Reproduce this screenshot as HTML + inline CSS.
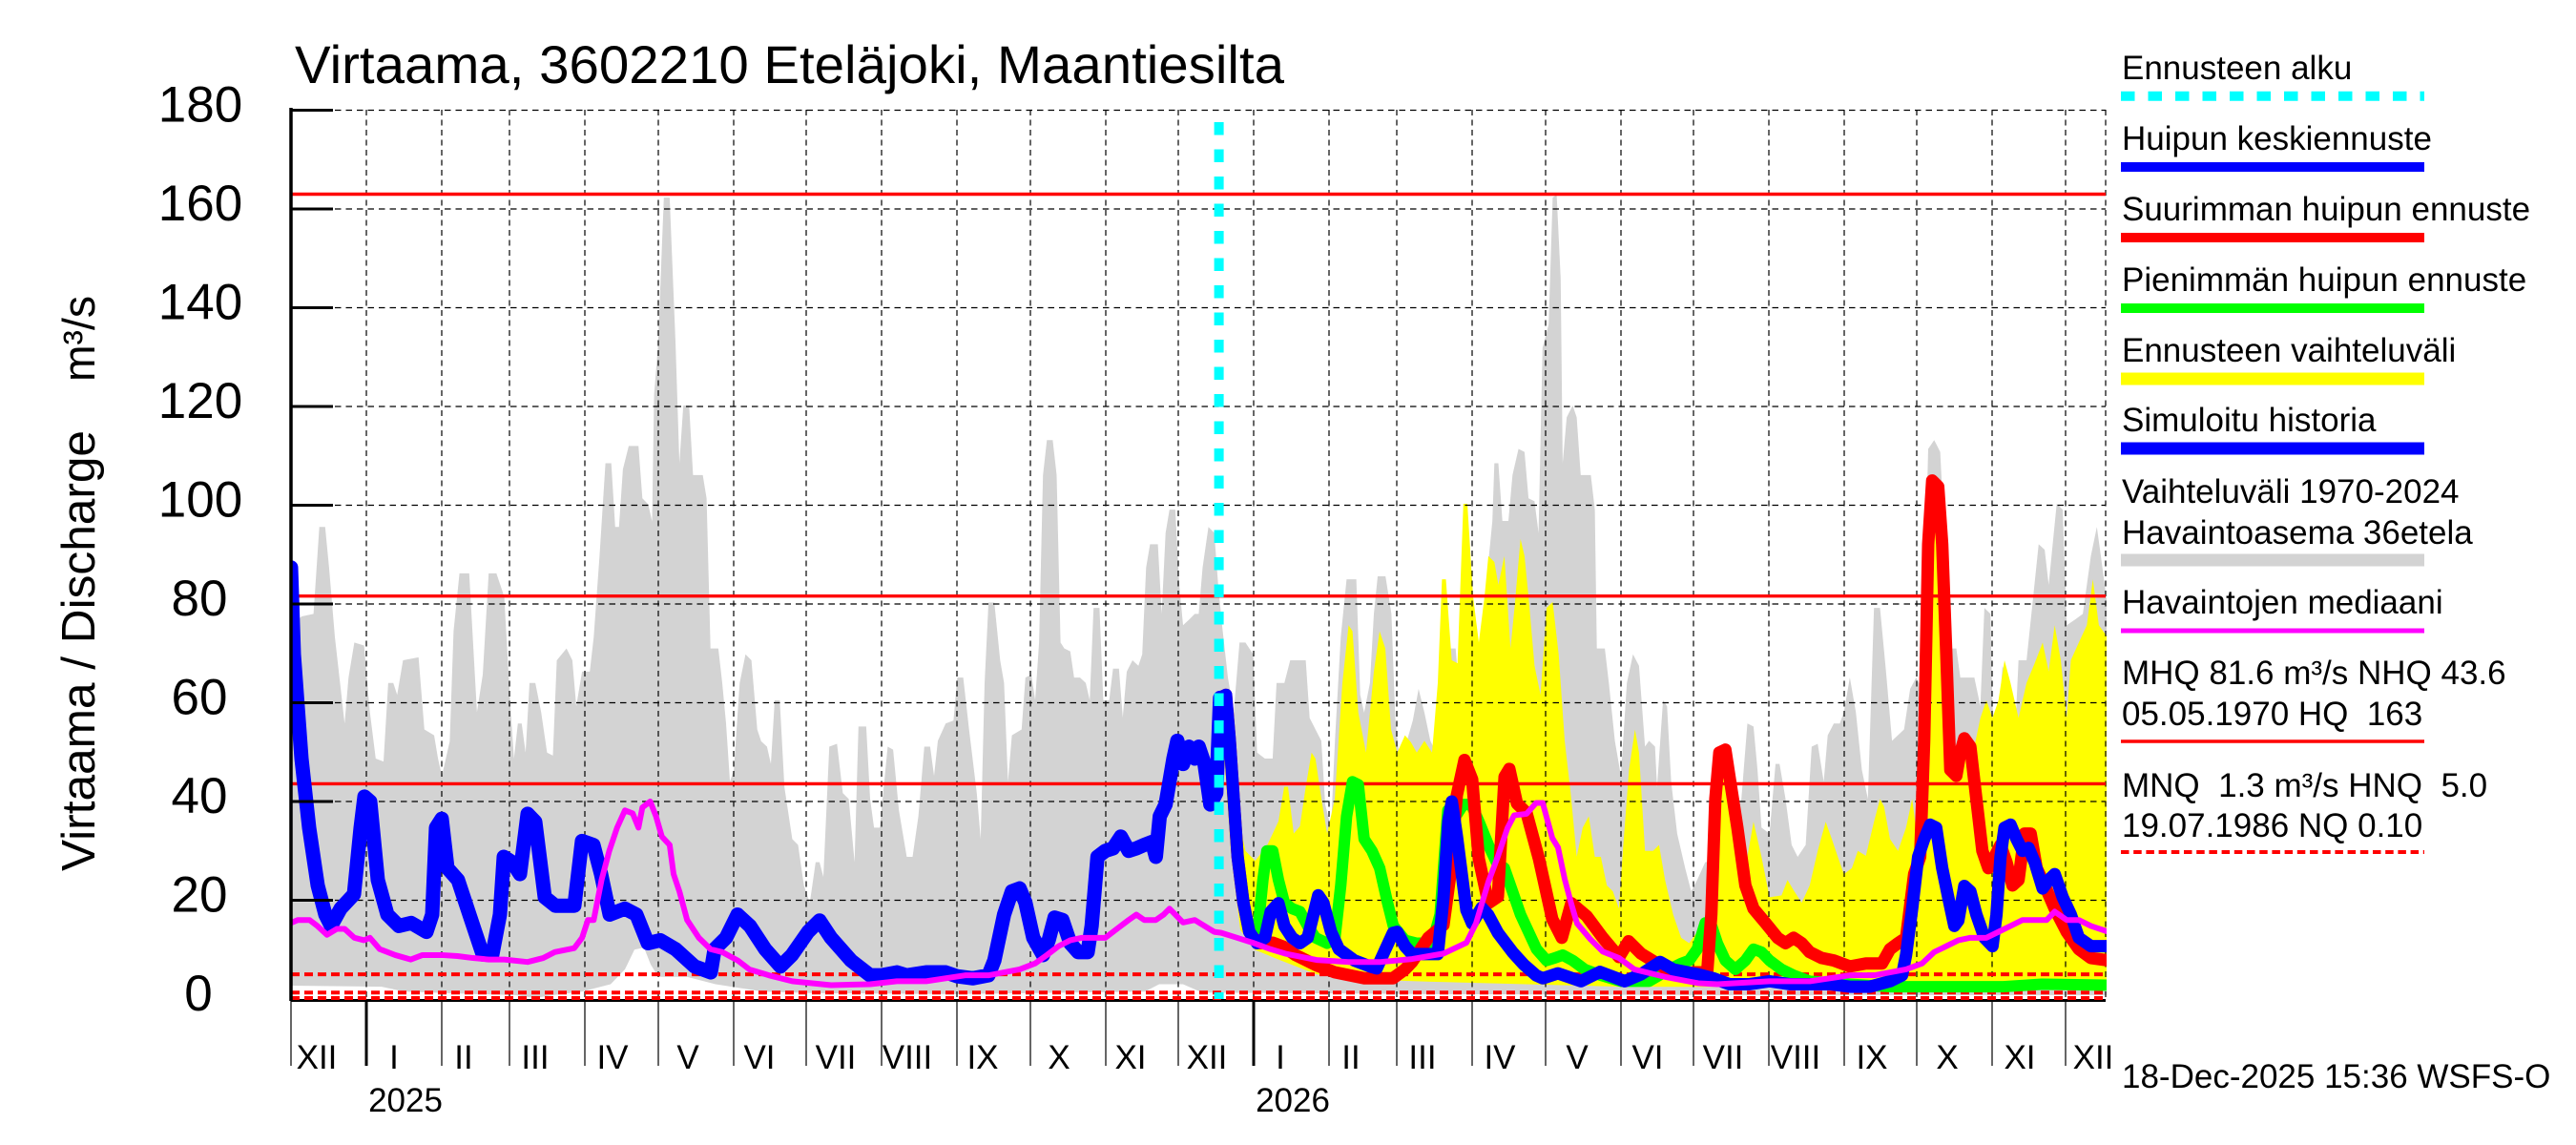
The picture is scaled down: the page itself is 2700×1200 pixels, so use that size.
<!DOCTYPE html>
<html><head><meta charset="utf-8"><style>
html,body{margin:0;padding:0;background:#fff;}
svg{display:block;}
text{font-family:"Liberation Sans",Arial,Helvetica,sans-serif;fill:#000;white-space:pre;}
</style></head><body>
<svg width="2700" height="1200" viewBox="0 0 2700 1200" xmlns="http://www.w3.org/2000/svg">
<defs><clipPath id="pc"><rect x="305" y="112" width="1903" height="936"/></clipPath></defs>
<rect width="2700" height="1200" fill="#fff"/>
<g clip-path="url(#pc)">
<g transform="matrix(1,0,0,-5.175,0,1047)">
<polygon fill="#d3d3d3" points="305,75.7 316.3,77.5 328.6,78 334.7,95.6 340.8,95.6 344.9,87.4 351,73.3 361.2,55.8 365.3,65.1 371.4,72.2 381.6,71.6 387.7,58.1 393.8,48.7 402,48.1 406.9,64 412.2,64 416.3,61.6 422.4,68.6 438.7,69.2 444.8,54.6 455,53.4 459.1,48.7 463.2,45.2 471.4,52.2 475.4,74.5 481.6,86.2 491.8,86.2 499.9,58.1 506,65.7 512.2,86.2 520.3,86.2 528.5,81.5 534.6,60.5 538.7,48.7 542.8,55.8 546.8,55.8 550.9,49.9 555,64 561.1,64 567.2,58.1 573.4,49.9 579.5,49.3 583.6,68.6 593.8,71 599.9,68.6 604,59.3 610.1,66.3 618.2,66.3 622.3,73.3 628.4,89.7 634.6,108.5 640.7,108.5 644.8,95.6 648.8,95.6 652.9,107.3 659,112 669.2,112 673.3,101.4 679.4,100.2 683.5,96.7 685.6,122.5 689.6,131.9 695.8,162.3 701.9,162.3 708,133.1 712.1,108.5 716.2,120.2 722.3,120.2 726.4,106.1 736.6,106.1 740.6,101.4 744.7,71 752.9,71 757,64 761,55.8 765.1,44 769.2,46.4 775.3,64 781.4,69.8 787.6,68.6 793.7,54.6 797.8,52.2 803.9,51.1 808,47.6 812,60.5 817.3,60.5 822.2,42.9 830.4,32.4 836.5,31.2 842.6,23 848.8,19.5 854.9,27.7 859,27.7 863,24.7 869.2,51.1 877.3,51.7 883.4,41.7 889.6,40.5 895.7,27.7 899.8,55.2 907.9,55.2 912,40.5 916.1,34.7 922.2,34.7 930.4,51.1 936.1,50.5 942.2,38.2 950.4,28.8 956.5,28.8 962.6,37 968.8,51.1 974.9,51.1 979,45.2 983,52.3 991.2,55.8 999.4,56.4 1003.4,65.1 1009.6,65.1 1015.7,54.6 1023.8,41.7 1027.9,32.4 1032,64 1036.1,80.3 1042.2,80.3 1048.3,68.6 1052.4,64 1056.5,44 1060.6,53.4 1070.8,54.6 1074.8,65.1 1081,65.7 1085,60.5 1089.1,72.2 1093.2,106.1 1097.3,113.2 1103.4,113.2 1107.5,106.1 1111.6,72.2 1115.6,71 1121.8,70.4 1125.8,65.1 1132,65.1 1138,64 1142.2,60.5 1146.2,79.2 1152.4,79.2 1156.4,60.5 1162.6,60.5 1166.6,66.9 1172.8,66.9 1176.8,57 1181,66.3 1187,68.6 1193.2,67.5 1197.2,69.8 1201.3,87.4 1205.4,92.1 1213.6,92.1 1217.6,78 1221.7,94.4 1225.8,99.1 1231.9,99.1 1236,83.9 1240,75.7 1246.2,76.8 1252.3,78 1256.4,78 1260.5,87.4 1266.6,95.6 1272.7,94.4 1276.8,83.9 1280.9,75.7 1287,65.1 1293.1,58.1 1299.2,72.2 1305.4,72.2 1313.5,69.8 1317.6,49.9 1325.8,48.7 1333.9,48.7 1338,64 1346.2,64 1352.3,68.6 1368.6,68.6 1372.7,56.9 1378.8,54.6 1384.9,52.3 1389,39.4 1395.1,34.7 1399.2,52.3 1405.3,73.3 1411.4,85 1421.6,85 1425.7,61.6 1429.8,58 1435.9,64 1440,78 1444,85.6 1452.2,85.6 1458.4,78 1462.4,57 1468.6,45.2 1474.7,52.3 1480.8,56.4 1486.9,62.8 1493,58 1499.2,52.3 1505.3,49.9 1511.4,64 1517.5,71 1525.7,71 1531.8,56.9 1537.9,65.1 1546.1,57 1552.2,68.6 1558.3,85 1564.2,96.8 1566.3,108.5 1570.5,108.5 1574.7,96.8 1581,96.8 1585.3,106.1 1591.6,111.4 1597.9,110.8 1602.1,101.4 1608.4,100.8 1612.6,94.4 1616.8,131.9 1623.2,136.6 1627.4,162.3 1631.6,162.9 1635.8,145.9 1637.9,108.5 1642.1,117.8 1648.4,120.2 1652.6,117.8 1656.8,106.1 1667.4,106.1 1671.6,99.1 1673.7,71 1682.1,71 1686.3,64 1692.6,52.3 1698.9,45.2 1705.2,64 1711.6,69.8 1717.9,67.5 1724.2,51.1 1728.4,52.3 1734.7,51.1 1736.8,42.9 1743.1,60.5 1747.3,59.3 1751.6,44 1757.9,33.5 1766.3,26.5 1772.6,21.8 1778.9,24.1 1787.3,27.7 1795.8,28 1800,22 1806,30 1816.8,34.7 1825.2,40.5 1831.5,55.8 1837.9,55.2 1842.1,46.4 1846.3,34.7 1854.7,33.5 1861,47.6 1865.2,47.6 1871.5,40.5 1877.9,31.2 1884.2,28.8 1892.6,31.2 1898.9,51.1 1905.2,51.7 1911.5,44 1915.7,53.4 1922.1,55.8 1928.4,55.8 1932.6,58.1 1938.9,65.1 1945.2,58.1 1951.5,46.4 1957.8,40.5 1964.2,79.2 1970.5,79.2 1976.8,66.3 1983.1,52.3 1995.7,54.6 2002.1,62.8 2008.4,65.1 2014.7,62.8 2021,111.4 2027.3,113.2 2033.6,110.8 2037.8,94.4 2044.2,71 2050.5,71 2054.7,65.1 2069.4,65.1 2075.7,59.3 2079.9,79.2 2086.3,78 2088.4,59.3 2092.6,51.1 2098.9,67.5 2105.2,64 2109.4,42.9 2115.7,68.6 2124.1,68.6 2130.5,80.4 2136.8,92.1 2143.1,91 2147.3,83.9 2151.5,92.1 2155.7,100.3 2162,99.1 2166.2,75.7 2174.7,76.8 2183.1,78 2191.5,89.7 2197.8,95.6 2202,89.7 2210,78 2210,0.8 1800,0.8 1500,1 1260,1.3 1240,3 1215,3 1200,1.5 1000,1 850,1.2 800,1.5 750,3 720,4.5 690,4.5 682,7 675,10.4 665,10 655,6 640,3 610,1.5 580,0.8 560,0.2 540,0.8 500,1 424,1.5 400,2.5 305,2.7"/>
<polygon fill="#ffff00" points="1278.8,61.6 1289,52 1297,38 1305.4,30 1315.6,28 1323.7,30 1327.8,31 1334,33.5 1340,36 1346,43 1350,43 1356,33.5 1362.5,35 1368.6,43 1374.7,49.9 1378.8,48.7 1385,40.5 1391,33.5 1399,40.5 1407,64 1413.5,75.7 1417.6,74.5 1423.7,58 1431.8,49.9 1440,66.3 1446,74.5 1452,71 1458,54.6 1464.5,49.9 1472.6,53.4 1478.8,52 1485,49.9 1493,52.3 1501,49.9 1507,64 1511.4,85 1515.5,85 1521.6,68.6 1527.7,68 1533.8,100.3 1538,100.3 1544,81.5 1550,72.2 1556,81.5 1560,89.7 1566.3,88.5 1570.5,83.9 1576.8,89.7 1583.2,71 1587.4,79.2 1593.7,93.2 1597.9,89.7 1602.1,81.5 1608.4,67.5 1614.7,61.6 1621,79.2 1627.4,80.4 1633.7,69.8 1640,52.3 1646.3,41.7 1652.6,28.8 1658.9,34.7 1665.3,37 1671.6,28.8 1677.9,28.8 1684.2,23 1690.5,21.8 1696.8,18.3 1701,30 1707.4,46.4 1713.7,54.6 1717.9,49.9 1724.2,30 1732.6,30 1738.9,31.2 1745.2,24.1 1753.7,17.1 1762.1,12.4 1770.5,11.3 1778.9,13.6 1787.3,16 1793.7,30 1797.9,40.5 1802.1,51 1808.4,51 1816.8,33.5 1825.2,26.5 1831.5,28.8 1837.9,35.9 1846.3,28.8 1854.7,20.6 1867.3,21 1873.6,24.1 1880,22 1888.4,19.5 1896.8,23 1905.2,30 1913.6,35.9 1920,32.4 1926.3,28.8 1932.6,25.3 1941,26.5 1947.3,30 1955.7,29 1964.2,35.9 1970.5,40.5 1974.7,39 1981,32.4 1989.4,30 1997.8,34.7 2004.2,40.5 2010.5,31.2 2014.7,34 2018.9,92 2023.1,105 2027.3,106.1 2033.6,103.8 2037.8,92.1 2042,66.3 2048.4,45.2 2054.7,52.3 2061,53.4 2069.4,51.1 2075.7,56.9 2082,60.5 2088.4,56.9 2094.7,60.5 2101,68.6 2107.3,64 2115.7,56.9 2124.1,64 2132.6,68 2141,72.2 2147.3,66.3 2153.6,75.7 2160,68.6 2166.2,56.9 2170.5,68.6 2178.9,72.2 2187.3,75.7 2193.6,85 2199.9,75.7 2210,73 2210,2.3 1700,2.5 1600,3 1500,3.5 1420,4 1380,5 1340,8 1315,10 1300,14 1290,30 1278.8,61"/>
</g>
</g>
<!-- grid -->
<g stroke="#000" stroke-width="1.2" stroke-dasharray="6.5,5" fill="none">
<line x1="305" y1="115.5" x2="2207" y2="115.5"/>
<line x1="305" y1="219" x2="2207" y2="219"/>
<line x1="305" y1="322.5" x2="2207" y2="322.5"/>
<line x1="305" y1="426" x2="2207" y2="426"/>
<line x1="305" y1="529.5" x2="2207" y2="529.5"/>
<line x1="305" y1="633" x2="2207" y2="633"/>
<line x1="305" y1="736.5" x2="2207" y2="736.5"/>
<line x1="305" y1="840" x2="2207" y2="840"/>
<line x1="305" y1="943.5" x2="2207" y2="943.5"/>
</g>
<g stroke="#000" stroke-width="1.2" stroke-dasharray="6,4.5" fill="none">
<line x1="384" y1="115" x2="384" y2="1047"/>
<line x1="463" y1="115" x2="463" y2="1047"/>
<line x1="534" y1="115" x2="534" y2="1047"/>
<line x1="613" y1="115" x2="613" y2="1047"/>
<line x1="690" y1="115" x2="690" y2="1047"/>
<line x1="769" y1="115" x2="769" y2="1047"/>
<line x1="845" y1="115" x2="845" y2="1047"/>
<line x1="924" y1="115" x2="924" y2="1047"/>
<line x1="1003" y1="115" x2="1003" y2="1047"/>
<line x1="1080" y1="115" x2="1080" y2="1047"/>
<line x1="1159" y1="115" x2="1159" y2="1047"/>
<line x1="1235" y1="115" x2="1235" y2="1047"/>
<line x1="1314" y1="115" x2="1314" y2="1047"/>
<line x1="1393" y1="115" x2="1393" y2="1047"/>
<line x1="1464" y1="115" x2="1464" y2="1047"/>
<line x1="1543" y1="115" x2="1543" y2="1047"/>
<line x1="1620" y1="115" x2="1620" y2="1047"/>
<line x1="1699" y1="115" x2="1699" y2="1047"/>
<line x1="1775" y1="115" x2="1775" y2="1047"/>
<line x1="1854" y1="115" x2="1854" y2="1047"/>
<line x1="1933" y1="115" x2="1933" y2="1047"/>
<line x1="2009" y1="115" x2="2009" y2="1047"/>
<line x1="2088" y1="115" x2="2088" y2="1047"/>
<line x1="2165" y1="115" x2="2165" y2="1047"/>
<line x1="2207" y1="115" x2="2207" y2="1047"/>
</g>
<!-- reference lines -->
<g stroke="#ff0000" fill="none">
<line x1="305" y1="203.5" x2="2207" y2="203.5" stroke-width="3.4"/>
<line x1="305" y1="624.7" x2="2207" y2="624.7" stroke-width="3.4"/>
<line x1="305" y1="821.4" x2="2207" y2="821.4" stroke-width="3.4"/>
</g>
<line x1="305" y1="1048.5" x2="2207" y2="1048.5" stroke="#000" stroke-width="3"/>
<g stroke="#ff0000" fill="none" stroke-width="4" stroke-dasharray="9,5">
<line x1="305" y1="1021.1" x2="2207" y2="1021.1"/>
<line x1="305" y1="1040.3" x2="2207" y2="1040.3"/>
<line x1="305" y1="1046" x2="2207" y2="1046"/>
</g>
<!-- series -->
<g clip-path="url(#pc)">
<g transform="matrix(1,0,0,-5.175,0,1047)" fill="none" stroke-linejoin="round" stroke-linecap="round">
<polyline vector-effect="non-scaling-stroke" stroke="#00ff00" stroke-width="12" points="1278.8,61 1285,61.6 1289,52.3 1293.1,40.5 1297.2,28.8 1303.3,19.5 1309.4,13.6 1317.6,12.4 1323.7,24.1 1327.8,30 1334,30 1340,24.1 1346.2,19.5 1354.3,18.3 1362.5,17.7 1370.6,14.8 1378.8,12.4 1391,11.3 1399.2,12.4 1405.3,23 1411.4,37 1417.6,44 1423.7,43.4 1429.8,32.4 1438,30 1446.1,26.5 1454.3,19.5 1460.4,14.8 1472.6,11.9 1484.9,11.3 1501.2,11.3 1509.4,17.1 1517.5,38.2 1525.7,37 1533.8,39.4 1542,39.4 1550.2,35.9 1560,31.2 1568.4,27.7 1576.8,26.5 1585.3,21.8 1593.7,17.1 1602.1,13.6 1610.5,10.1 1621,7.8 1629.5,8.3 1637.9,8.9 1648.4,7.8 1661,6 1677.9,4.8 1698.9,3.6 1728.4,3.6 1749.5,6 1762.1,7.2 1770.5,7.8 1778.9,10.1 1787.3,15.4 1793.7,15 1800,11.3 1808.4,7.8 1818.9,6 1829.4,7.8 1837.9,10.1 1846.3,9.5 1854.7,7.8 1867.3,6 1880,4.8 1896.8,3.6 1938.9,3 1981,2.5 2100,2.5 2140,3 2210,2.8"/>
<polyline vector-effect="non-scaling-stroke" stroke="#ff0000" stroke-width="13" points="1278.8,61 1285,61.6 1289,52.3 1293.1,40.5 1297.2,28.8 1303.3,19.5 1309.4,13.6 1313.5,12.4 1321.7,11.3 1334,11.4 1345,10.6 1358,8.9 1380,6.8 1399.2,5.4 1430,4.2 1460,4.2 1472.6,6 1480,7.5 1497,12.4 1513,15 1520,25 1527,41.3 1535,48.4 1543,44.5 1550,28.4 1560,19.4 1570,20.7 1577,45 1582,46.6 1590,39.6 1600,37.7 1613,28.4 1627,16.2 1637,12.4 1647,19.4 1663,16.8 1680,12.4 1697,8.5 1707,11.7 1720,9.2 1747,6 1766.3,4.8 1774.7,5.4 1783.1,5.4 1789.4,5.4 1793.7,17.1 1797.9,40.5 1802.1,49.9 1808.4,50.5 1812.6,45.2 1821,34.7 1829.4,23 1837.9,18.3 1850.5,15.4 1863.1,12.4 1871.5,11.3 1880,12.4 1888.4,11.3 1896.8,9.5 1909.4,8.3 1922.1,7.8 1938.9,6.6 1955.7,7.2 1972.6,7.2 1981,10.1 1989.4,11.3 1997.8,12.4 2006.3,25.3 2012.6,28.8 2016.8,52.3 2021,92.1 2025.2,105 2031.5,103.8 2035.7,92.1 2040,69.8 2044.2,46.4 2050.5,45.2 2054.7,49.9 2058.9,52.8 2065.2,51.1 2071.5,40.5 2077.8,30 2084.1,26.5 2090.5,28.8 2096.8,31.2 2103.1,27.7 2109.4,23 2115.7,24.1 2122,33.5 2128.4,33.5 2134.7,26.5 2143.1,23 2153.6,18.3 2166.2,13.6 2178.9,10.1 2191.5,8.3 2210,7.8"/>
<polyline vector-effect="non-scaling-stroke" stroke="#0000ff" stroke-width="13" points="1278.8,61 1285,61.6 1289,52.3 1293.1,40.5 1297.2,28.8 1303.3,19.5 1309.4,13.6 1317.6,11.3 1325.8,12.4 1331.9,17.7 1340,19.4 1346.2,14.8 1354.3,12.4 1362.5,11.3 1370.6,12.4 1381.7,21 1387,19.5 1395.1,13.6 1403.3,10.1 1419.6,7.8 1435.9,6.6 1443,6.2 1452.2,10.1 1460,13.4 1464.5,13.6 1472.6,10.7 1480,9.1 1507,9.1 1513,20.6 1518,36 1521.7,40 1527,33 1537,18 1543,15.3 1553,18.5 1560,17 1570,13.4 1585.3,9.5 1597,7 1610,4.8 1617,4.2 1633,5.2 1657,3.6 1677,5.5 1703,3.6 1720,5 1740,7.5 1753.7,6 1766.3,5.5 1780,5 1795.8,4.2 1812.6,3 1833.7,3 1854.7,3.6 1875.8,3 1896.8,3 1917.9,3 1938.9,2.5 1960,2.5 1981,3.6 1993.6,4.8 1997.8,8.9 2004.2,18.3 2010.5,28.8 2016.8,32.4 2023.1,35.3 2029.4,34.7 2035.7,26.5 2042,20.6 2048.4,14.8 2052.6,15.9 2058.9,22.9 2065.2,21.8 2071.5,17.1 2080,12.4 2088.4,10.7 2092.6,17.1 2096.8,28.8 2101,34.7 2107.3,35.3 2113.6,32.4 2119.9,30 2126.2,30.6 2132.6,27.7 2141,22.4 2147.3,24.1 2153.6,25.3 2162,20.6 2170.5,17.1 2178.9,12.4 2191.5,10.7 2210,10.7"/>
<polyline vector-effect="non-scaling-stroke" stroke="#0000ff" stroke-width="15" points="305,87.4 308,69.8 316,48.7 324,34.7 333,23 341,17.1 347,14.8 357,18.3 371,21.2 378,34.7 382,41 388,40 396,24.1 406,17.1 418,14.8 431,15.4 447,13.6 453,17.1 457,34.7 463,36.5 469,26.5 480,24.1 492,17.1 506,9 516,9 524,17.1 528,28.8 537,27.7 545,25.3 553,37.5 561,35.9 571,20.6 582,18.9 594,18.9 602,18.9 610,32 622,31.2 630,25.3 639,17.1 655,18.3 667,17.1 679,11.3 692,11.9 708,10.1 728,6.6 745,5.4 749,10.1 761,12.4 773,17.1 786,14.8 802,10.1 818,6.6 830,8.9 847,13.6 859,15.9 871,12.4 892,7.8 912,4.8 924,4.8 940,5.4 950.4,4.8 970.8,5.4 991.2,5.4 1003.4,4.6 1019.8,4.2 1036,4.8 1042.2,7.8 1052.4,17.1 1060.6,21.8 1068.7,22.4 1074.8,19.5 1083,12.4 1093.2,8.9 1099.3,12 1105.4,16.5 1113.6,16 1121.8,11.3 1130,9.5 1140,9.5 1144.2,14.8 1150.3,28.8 1158.5,30 1166.6,30.5 1174.8,32.9 1183,30 1191,30.5 1199.3,31.2 1207.4,31.8 1211.5,28.8 1215.6,37 1221.7,39.4 1229.9,48.7 1234,52.3 1240,47.6 1246.2,51.1 1252.3,48.7 1256.4,51.1 1262.5,47.6 1268.6,39.4 1274.8,41.7 1278.8,61"/>
<polyline vector-effect="non-scaling-stroke" stroke="#ff00ff" stroke-width="6" points="305,15.4 312,16 324.5,16 332.6,14.8 342.8,13 353,14.2 361.2,14.2 371.4,12.4 381.6,11.9 387.7,12.4 398,10.1 414.2,8.9 430.6,8 442.8,8.9 463.2,8.9 479.5,8.7 495.8,8.3 512.2,8 528.5,8 553,7.5 569.3,8.3 581.5,9.5 601.9,10.3 610.1,12.4 616.2,16 622.3,16 630.5,24.1 638.6,30 646.8,34.7 655,38.2 663.1,37.6 669.2,34.7 673.3,38.8 681.5,40 687.6,37 693.7,32.9 701.9,31.2 706,25.3 712.1,21.8 720.2,16 732.5,12.4 744.7,10.1 757,9.5 773.3,7.8 785.5,6 805.9,4.8 830.4,3.6 871.2,2.8 912,3 940,3.6 970.8,3.6 1011.6,4.8 1036.1,4.8 1052.4,5.4 1068.7,6 1085,7.2 1097.3,8.9 1109.5,10.7 1121.8,11.9 1134,12.4 1158.5,12.4 1170.7,14.2 1183,16 1191,17.1 1199.3,16 1211.5,16 1219.7,17.1 1225.8,18.3 1231.9,17.1 1240,15.5 1252.3,16 1262.5,14.8 1272.7,13.6 1280,13.4 1295,12.5 1313,11.4 1330,10.2 1347,9.2 1365,8.5 1380,7.9 1413,7.5 1447,7.5 1480,8.1 1513,9.2 1537,11.4 1547,15.3 1560,23.7 1570,28.9 1580,34.6 1587,37.2 1600,37.5 1610,39.7 1617,39.7 1627,32.6 1633,30.7 1640,24.3 1647,19.2 1653,15.3 1667,12.1 1680,9.6 1697,8.3 1713,6 1747,4.4 1780,3.2 1800,3 1854.7,3.6 1897,3.6 1917.9,4.2 1938.9,4.8 1964.2,4.8 1981,5.4 1997.8,6 2014.7,7.2 2027.3,9.5 2040,10.7 2052.6,11.9 2065.2,12.4 2082,12.4 2094.7,13.6 2107.3,14.8 2119.9,16 2132.6,16 2145.2,16 2153.6,17.7 2166.2,16 2178.9,16 2191.5,14.8 2210,13.6"/>
</g>
</g>
<!-- forecast start -->
<line x1="1277.6" y1="128" x2="1277.6" y2="1047" stroke="#00ffff" stroke-width="10" stroke-dasharray="13.5,15"/>
<!-- axes -->
<line x1="305" y1="113" x2="305" y2="1049" stroke="#000" stroke-width="3.5"/>
<g stroke="#000" stroke-width="3">
<line x1="305" y1="115.5" x2="349" y2="115.5"/>
<line x1="305" y1="219" x2="349" y2="219"/>
<line x1="305" y1="322.5" x2="349" y2="322.5"/>
<line x1="305" y1="426" x2="349" y2="426"/>
<line x1="305" y1="529.5" x2="349" y2="529.5"/>
<line x1="305" y1="633" x2="349" y2="633"/>
<line x1="305" y1="736.5" x2="349" y2="736.5"/>
<line x1="305" y1="840" x2="349" y2="840"/>
<line x1="305" y1="943.5" x2="349" y2="943.5"/>
<line x1="384" y1="1048" x2="384" y2="1117"/>
<line x1="1314" y1="1048" x2="1314" y2="1117"/>
</g>
<g stroke="#000" stroke-width="1.2">
<line x1="305" y1="1048" x2="305" y2="1117"/>
<line x1="463" y1="1048" x2="463" y2="1117"/>
<line x1="534" y1="1048" x2="534" y2="1117"/>
<line x1="613" y1="1048" x2="613" y2="1117"/>
<line x1="690" y1="1048" x2="690" y2="1117"/>
<line x1="769" y1="1048" x2="769" y2="1117"/>
<line x1="845" y1="1048" x2="845" y2="1117"/>
<line x1="924" y1="1048" x2="924" y2="1117"/>
<line x1="1003" y1="1048" x2="1003" y2="1117"/>
<line x1="1080" y1="1048" x2="1080" y2="1117"/>
<line x1="1159" y1="1048" x2="1159" y2="1117"/>
<line x1="1235" y1="1048" x2="1235" y2="1117"/>
<line x1="1393" y1="1048" x2="1393" y2="1117"/>
<line x1="1464" y1="1048" x2="1464" y2="1117"/>
<line x1="1543" y1="1048" x2="1543" y2="1117"/>
<line x1="1620" y1="1048" x2="1620" y2="1117"/>
<line x1="1699" y1="1048" x2="1699" y2="1117"/>
<line x1="1775" y1="1048" x2="1775" y2="1117"/>
<line x1="1854" y1="1048" x2="1854" y2="1117"/>
<line x1="1933" y1="1048" x2="1933" y2="1117"/>
<line x1="2009" y1="1048" x2="2009" y2="1117"/>
<line x1="2088" y1="1048" x2="2088" y2="1117"/>
<line x1="2165" y1="1048" x2="2165" y2="1117"/>
</g>
<!-- title -->
<text x="309" y="87" font-size="56" textLength="1037" lengthAdjust="spacingAndGlyphs">Virtaama, 3602210 Eteläjoki, Maantiesilta</text>
<!-- y tick labels -->
<g font-size="53" text-anchor="middle">
<text x="210" y="127.5">180</text>
<text x="210" y="231">160</text>
<text x="210" y="334.5">140</text>
<text x="210" y="438">120</text>
<text x="210" y="541.5">100</text>
<text x="209" y="645">80</text>
<text x="209" y="748.5">60</text>
<text x="209" y="852">40</text>
<text x="209" y="955.5">20</text>
<text x="208" y="1059">0</text>
</g>
<text transform="translate(99,913) rotate(-90)" font-size="49" textLength="462" lengthAdjust="spacingAndGlyphs">Virtaama / Discharge</text>
<text transform="translate(99,400) rotate(-90)" font-size="47" textLength="90" lengthAdjust="spacingAndGlyphs">m³/s</text>
<!-- month labels -->
<g font-size="35" text-anchor="middle">
<text x="332" y="1120">XII</text>
<text x="413" y="1120">I</text>
<text x="486" y="1120">II</text>
<text x="561" y="1120">III</text>
<text x="642" y="1120">IV</text>
<text x="721" y="1120">V</text>
<text x="796" y="1120">VI</text>
<text x="876" y="1120">VII</text>
<text x="951" y="1120">VIII</text>
<text x="1030" y="1120">IX</text>
<text x="1110" y="1120">X</text>
<text x="1185" y="1120">XI</text>
<text x="1265" y="1120">XII</text>
<text x="1342" y="1120">I</text>
<text x="1416" y="1120">II</text>
<text x="1491" y="1120">III</text>
<text x="1572" y="1120">IV</text>
<text x="1653" y="1120">V</text>
<text x="1727" y="1120">VI</text>
<text x="1806" y="1120">VII</text>
<text x="1882" y="1120">VIII</text>
<text x="1962" y="1120">IX</text>
<text x="2041" y="1120">X</text>
<text x="2117" y="1120">XI</text>
<text x="2194" y="1120">XII</text>
<text x="425" y="1165">2025</text>
<text x="1355" y="1165">2026</text>
</g>
<!-- legend -->
<g font-size="35">
<text x="2224" y="83">Ennusteen alku</text>
<text x="2224" y="157">Huipun keskiennuste</text>
<text x="2224" y="231">Suurimman huipun ennuste</text>
<text x="2224" y="305">Pienimmän huipun ennuste</text>
<text x="2224" y="379">Ennusteen vaihteluväli</text>
<text x="2224" y="452">Simuloitu historia</text>
<text x="2224" y="527">Vaihteluväli 1970-2024</text>
<text x="2224" y="570">Havaintoasema 36etela</text>
<text x="2224" y="643">Havaintojen mediaani</text>
<text x="2224" y="717">MHQ 81.6 m³/s NHQ 43.6</text>
<text x="2224" y="760">05.05.1970 HQ  163</text>
<text x="2224" y="835">MNQ  1.3 m³/s HNQ  5.0</text>
<text x="2224" y="877">19.07.1986 NQ 0.10</text>
<text x="2224" y="1140">18-Dec-2025 15:36 WSFS-O</text>
</g>
<line x1="2223" y1="100.7" x2="2541" y2="100.7" stroke="#00ffff" stroke-width="10" stroke-dasharray="14.5,14"/>
<line x1="2223" y1="175" x2="2541" y2="175" stroke="#0000ff" stroke-width="10"/>
<line x1="2223" y1="249" x2="2541" y2="249" stroke="#ff0000" stroke-width="10"/>
<line x1="2223" y1="323" x2="2541" y2="323" stroke="#00ff00" stroke-width="10"/>
<line x1="2223" y1="397" x2="2541" y2="397" stroke="#ffff00" stroke-width="13"/>
<line x1="2223" y1="470" x2="2541" y2="470" stroke="#0000ff" stroke-width="13"/>
<line x1="2223" y1="587" x2="2541" y2="587" stroke="#d3d3d3" stroke-width="13"/>
<line x1="2223" y1="661" x2="2541" y2="661" stroke="#ff00ff" stroke-width="5"/>
<line x1="2223" y1="777" x2="2541" y2="777" stroke="#ff0000" stroke-width="3.5"/>
<line x1="2223" y1="893" x2="2541" y2="893" stroke="#ff0000" stroke-width="4" stroke-dasharray="8.5,4.7"/>
</svg>
</body></html>
